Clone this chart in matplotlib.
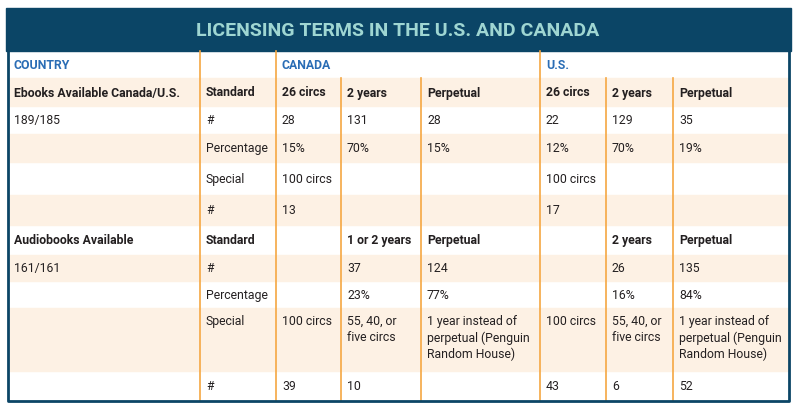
import matplotlib
matplotlib.use("Agg")
import matplotlib.pyplot as plt
from matplotlib.patches import Rectangle
from matplotlib import font_manager

title = "LICENSING TERMS IN THE U.S. AND CANADA"
rows = [
    ["COUNTRY", "", "CANADA", "", "", "U.S.", "", ""],
    ["Ebooks Available Canada/U.S.", "Standard", "26 circs", "2 years", "Perpetual", "26 circs", "2 years", "Perpetual"],
    ["189/185", "#", "28", "131", "28", "22", "129", "35"],
    ["", "Percentage", "15%", "70%", "15%", "12%", "70%", "19%"],
    ["", "Special", "100 circs", "", "", "100 circs", "", ""],
    ["", "#", "13", "", "", "17", "", ""],
    ["Audiobooks Available", "Standard", "", "1 or 2 years", "Perpetual", "", "2 years", "Perpetual"],
    ["161/161", "#", "", "37", "124", "", "26", "135"],
    ["", "Percentage", "", "23%", "77%", "", "16%", "84%"],
    ["", "Special", "100 circs", "55, 40, or\nfive circs", "1 year instead of\nperpetual (Penguin\nRandom House)",
     "100 circs", "55, 40, or\nfive circs", "1 year instead of\nperpetual (Penguin\nRandom House)"],
    ["", "#", "39", "10", "", "43", "6", "52"],
]
bold_rows = [1, 6]

col_x = [8, 200, 276, 341, 421, 540, 606, 673, 789]
row_y = [52, 79, 107, 135, 163, 196, 226, 256, 282, 309, 372, 402]

names = {f.name for f in font_manager.fontManager.ttflist}
fam = "Liberation Sans Narrow" if "Liberation Sans Narrow" in names else "Roboto"
fs = 10.5 if fam == "Liberation Sans Narrow" else 8.8

navy = "#0b4566"
orange = "#f5a742"
cream = "#fdf1e4"

fig = plt.figure(figsize=(8, 4.14), dpi=100)
ax = fig.add_axes([0, 0, 1, 1])
ax.set_xlim(0, 800)
ax.set_ylim(414, 0)
ax.axis("off")

ax.add_patch(Rectangle((6, 9), 785, 43, color=navy, zorder=1))
ax.text(398, 31, title, ha="center", va="center", color="#9fd6d2", fontsize=14,
        fontweight="bold", family=fam, zorder=3)

for i in range(len(rows)):
    if i % 2 == 1:
        ax.add_patch(Rectangle((col_x[0], row_y[i]), col_x[-1] - col_x[0], row_y[i + 1] - row_y[i],
                               color=cream, zorder=1))
for j, x in enumerate(col_x[1:-1], start=1):
    y0 = row_y[0] if j in (1, 2, 5) else row_y[1]
    ax.plot([x, x], [y0, row_y[-1]], color=orange, lw=1.2, zorder=2)
ax.plot([col_x[0], col_x[0], col_x[-1], col_x[-1]], [row_y[0], row_y[-1], row_y[-1], row_y[0]],
        color=navy, lw=2, zorder=3)

for i, row in enumerate(rows):
    for j, txt in enumerate(row):
        if not txt:
            continue
        if i == 0:
            color, weight = "#2a6db5", "bold"
        else:
            color, weight = "#231f20", ("bold" if i in bold_rows else "normal")
        if i == 9:
            y, va = row_y[i] + 6, "top"
        else:
            y, va = (row_y[i] + row_y[i + 1]) / 2, "center"
        ax.text(col_x[j] + 6, y, txt, ha="left", va=va, fontsize=fs, color=color,
                fontweight=weight, family=fam, linespacing=1.3, zorder=4)

fig.savefig("out.png", dpi=100, facecolor="white")
